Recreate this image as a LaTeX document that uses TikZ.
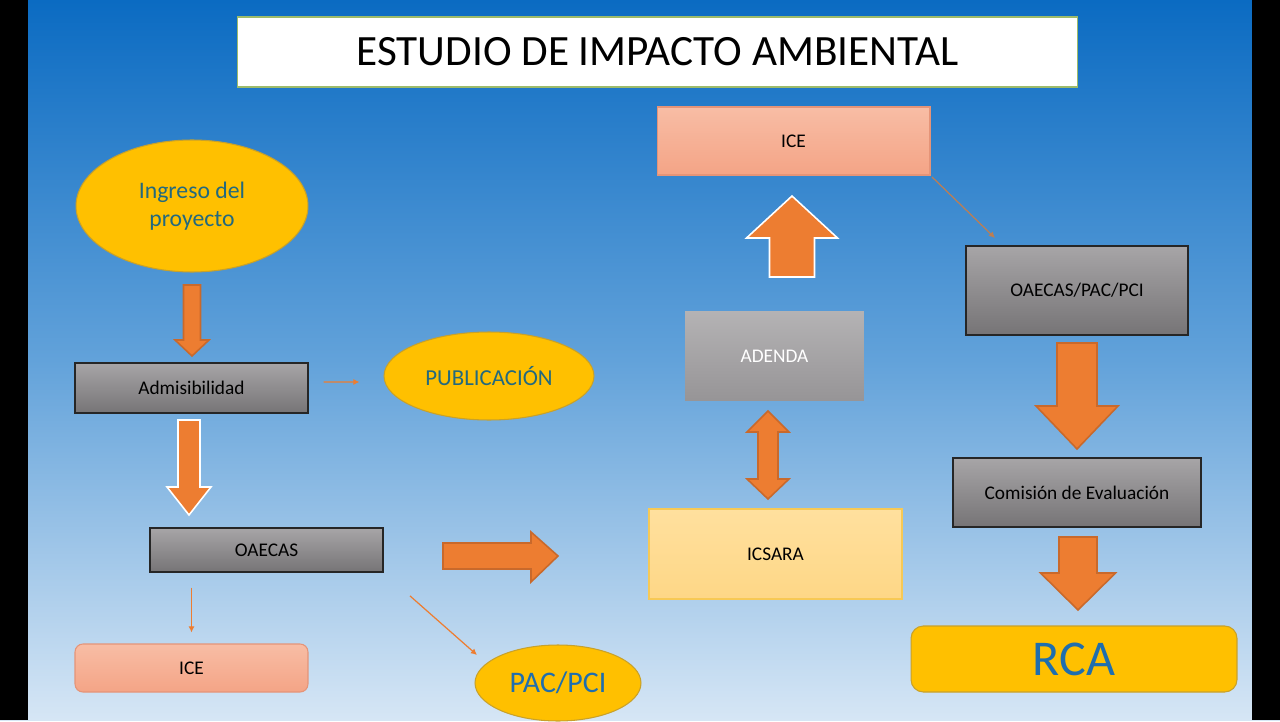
\documentclass[tikz,border=0pt]{standalone}
\usepackage{fontspec}
\setmainfont{Carlito}
\usetikzlibrary{calc,arrows.meta,shapes.geometric}
\definecolor{BgTop}{HTML}{0B6BC2}
\definecolor{BgMid}{HTML}{62A2DA}
\definecolor{BgBot}{HTML}{D6E6F5}
\definecolor{Orange}{HTML}{ED7D31}
\definecolor{OrangeEdge}{HTML}{C9692B}
\definecolor{Gold}{HTML}{FFC000}
\definecolor{GoldEdge}{HTML}{C8A12A}
\definecolor{GrayTop}{HTML}{A7A5A7}
\definecolor{GrayBot}{HTML}{767476}
\definecolor{Salmon}{HTML}{F4A486}
\definecolor{SalmonTop}{HTML}{F8BDA5}
\definecolor{SalmonEdge}{HTML}{E59478}
\definecolor{Sand}{HTML}{FED786}
\definecolor{SandTop}{HTML}{FFE09E}
\definecolor{SandEdge}{HTML}{F7C955}
\definecolor{TealText}{HTML}{23697E}
\definecolor{BlueText}{HTML}{1F6EAE}
\definecolor{TitleEdge}{HTML}{9DBB6A}
\newcommand{\vblockarrow}[7]{%
  \draw[line width=0.9pt,#7,fill=Orange,line join=miter]
    (#1-#5,#2) -- (#1+#5,#2) -- (#1+#5,#3) -- (#1+#6,#3) -- (#1,#4)
    -- (#1-#6,#3) -- (#1-#5,#3) -- cycle;
}

\begin{document}
\begin{tikzpicture}[x=0.02cm,y=-0.02cm,
  every node/.style={text=black,font=\fontsize{11}{13}\selectfont,align=center},
  graybox/.style={draw=black!85,line width=0.8pt,top color=GrayTop,bottom color=GrayBot,minimum width=#1},
  salmonbox/.style={draw=SalmonEdge,line width=0.6pt,top color=SalmonTop,bottom color=Salmon,minimum width=#1},
  goldoval/.style={ellipse,draw=GoldEdge,line width=0.6pt,fill=Gold,text=TealText,inner sep=0pt},
  thinarrow/.style={-{Latex[length=3.5pt,width=3.5pt]},line width=0.7pt,draw=Orange}]
  \shade[top color=BgTop,bottom color=BgBot,middle color=BgMid] (0,0) rectangle (1280,720);
  \fill[black] (0,0) rectangle (28,720);
  \fill[black] (1252,0) rectangle (1280,720);

  \node[draw=TitleEdge,fill=white,line width=0.6pt,minimum width=16.82cm,minimum height=1.4cm,
    font=\fontsize{24.6}{28}\selectfont] (title) at (657.5,52) {ESTUDIO DE IMPACTO AMBIENTAL};

  % left column
  \node[goldoval,minimum width=4.64cm,minimum height=2.64cm,font=\fontsize{13.5}{16}\selectfont]
    (ingreso) at (192,206) {Ingreso del\\proyecto};
  \node[graybox=4.66cm,minimum height=1cm] (admis) at (191.5,388) {Admisibilidad};
  \node[goldoval,minimum width=4.2cm,minimum height=1.76cm,font=\fontsize{13}{15}\selectfont]
    (publicacion) at (489,376) {PUBLICACIÓN};
  \node[graybox=4.66cm,minimum height=0.88cm] (oaecas) at (266.5,550) {OAECAS};
  \node[salmonbox=4.66cm,minimum height=0.96cm,rounded corners=4.5pt] (iceA) at (191.5,668) {ICE};
  \node[goldoval,minimum width=3.32cm,minimum height=1.52cm,font=\fontsize{17}{20}\selectfont,text=BlueText]
    (pacpci) at (558,683) {PAC/PCI};

  \vblockarrow{192}{285}{340}{356}{8.5}{17}{draw=OrangeEdge}
  \vblockarrow{189}{420}{487}{515}{11}{22}{draw=white}
  \draw[line width=0.9pt,draw=OrangeEdge,fill=Orange,line join=miter]
    (443,543) -- (531,543) -- (531,532) -- (558,556) -- (531,582) -- (531,569) -- (443,569) -- cycle;

  \draw[thinarrow,shorten <=0.3cm,shorten >=0.48cm]
    ([yshift=0.12cm]admis.east) -- ([yshift=-0.12cm]publicacion.west);
  \draw[thinarrow,shorten <=0.3cm,shorten >=0.22cm] (iceA.north |- oaecas.south) -- (iceA.north);
  \coordinate (pacTip) at (477,655);
  \draw[thinarrow,shorten <=0.7cm] (oaecas.south east) -- (pacTip);

  % middle column
  \node[salmonbox=5.46cm,minimum height=1.36cm] (iceB) at (793.5,141) {ICE};
  \node[top color=GrayTop!85!white,bottom color=GrayTop!90!black,minimum width=3.58cm,minimum height=1.8cm,text=white]
    (adenda) at (774.5,356) {ADENDA};
  \node[draw=SandEdge,line width=1pt,top color=SandTop,bottom color=Sand,minimum width=5.06cm,minimum height=1.8cm]
    (icsara) at (775.5,554) {ICSARA};

  \vblockarrow{792}{277}{238}{196}{22.5}{45.5}{draw=white}
  \draw[line width=0.9pt,draw=OrangeEdge,fill=Orange,line join=miter]
    (768,411) -- (789,432) -- (778,432) -- (778,479) -- (789,479) -- (768,499)
    -- (747,479) -- (758,479) -- (758,432) -- (747,432) -- cycle;

  % right column
  \node[graybox=4.44cm,minimum height=1.78cm] (oapp) at (1077,290.5) {OAECAS/PAC/PCI};
  \node[graybox=4.96cm,minimum height=1.38cm] (comision) at (1077,492.5) {Comisión de Evaluación};
  \node[draw=GoldEdge,line width=0.6pt,fill=Gold,rounded corners=7pt,minimum width=6.52cm,minimum height=1.32cm,
    text=BlueText,font=\fontsize{28.5}{32}\selectfont] (rca) at (1074,659) {RCA};

  \coordinate (oappTip) at (995,238);
  \draw[thinarrow,draw=Orange!55!gray,shorten <=0.04cm] (iceB.south east) -- (oappTip);
  \vblockarrow{1077}{343}{406}{449}{20}{41}{draw=OrangeEdge}
  \vblockarrow{1078}{537}{573}{610}{19}{37.5}{draw=OrangeEdge}
\end{tikzpicture}
\end{document}
